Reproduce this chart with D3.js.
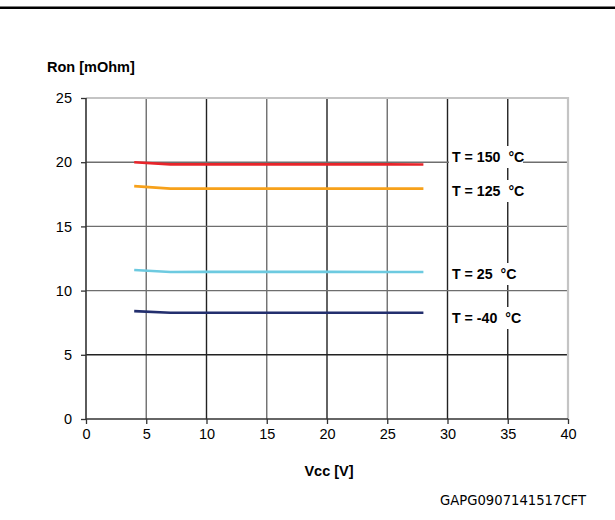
<!DOCTYPE html>
<html>
<head>
<meta charset="utf-8">
<script src="https://cdn.jsdelivr.net/npm/d3@7"></script>
<style>
  body { margin: 0; background: #fff; }
  text { font-family: "Liberation Sans", Arial, sans-serif; }
</style>
</head>
<body>
<div id="chart"></div>
<script>
// Data
const vcc = [4, 7, 10, 15, 20, 25, 28];
const ron150 = [20.0, 19.83, 19.83, 19.83, 19.83, 19.83, 19.82];
const ron125 = [18.14, 17.94, 17.94, 17.94, 17.94, 17.94, 17.94];
const ron25 = [11.61, 11.45, 11.46, 11.46, 11.46, 11.45, 11.45];
const ronM40 = [8.40, 8.27, 8.27, 8.27, 8.27, 8.27, 8.27];
const seriesNames = ['T = 150  °C', 'T = 125  °C', 'T = 25  °C', 'T = -40  °C'];
const seriesColors = ['#e8242a', '#f7a11a', '#6dcae0', '#232f6e'];
const xTicks = [0, 5, 10, 15, 20, 25, 30, 35, 40];
const yTicks = [0, 5, 10, 15, 20, 25];

const width = 615;
const height = 520;

// Plot area
const plotLeft = 86;
const plotRight = 568;
const plotTop = 98;
const plotBottom = 419;

const svg = d3
  .select('#chart')
  .append('svg')
  .attr('width', width)
  .attr('height', height);

// Rule at the very top (remains of the page heading)
svg
  .append('rect')
  .attr('x', 0)
  .attr('y', 6.5)
  .attr('width', width)
  .attr('height', 2.5)
  .attr('fill', '#000');

const x = d3.scaleLinear().domain([0, 40]).range([plotLeft, plotRight]);
const y = d3.scaleLinear().domain([0, 25]).range([plotBottom, plotTop]);

// Grid lines
svg
  .append('g')
  .selectAll('line')
  .data(xTicks.filter((d) => d > 0 && d < 40))
  .enter()
  .append('line')
  .attr('x1', (d) => x(d))
  .attr('x2', (d) => x(d))
  .attr('y1', plotTop)
  .attr('y2', plotBottom)
  .attr('stroke', (d) => (d % 10 === 0 || d === 35 ? '#222' : '#6e6e6e'))
  .attr('stroke-width', 1.4);

svg
  .append('g')
  .selectAll('line')
  .data(yTicks.filter((d) => d > 0 && d < 25))
  .enter()
  .append('line')
  .attr('x1', plotLeft)
  .attr('x2', plotRight)
  .attr('y1', (d) => y(d))
  .attr('y2', (d) => y(d))
  .attr('stroke', (d) => (d === 5 ? '#222' : '#6e6e6e'))
  .attr('stroke-width', 1.4);

// Light border top and right
svg
  .append('path')
  .attr('d', `M${plotLeft},${y(25)}H${x(40)}V${y(0)}`)
  .attr('fill', 'none')
  .attr('stroke', '#c4c4c4')
  .attr('stroke-width', 2.2);

// Axes
const xAxis = d3
  .axisBottom(x)
  .tickValues(xTicks)
  .tickSize(5)
  .tickPadding(5);
const yAxis = d3
  .axisLeft(y)
  .tickValues(yTicks)
  .tickSize(5)
  .tickPadding(9);

const gx = svg
  .append('g')
  .attr('transform', 'translate(0,' + plotBottom + ')')
  .call(xAxis);
const gy = svg
  .append('g')
  .attr('transform', 'translate(' + plotLeft + ',0)')
  .call(yAxis);

[gx, gy].forEach((g) => {
  g.select('.domain').attr('stroke', '#333').attr('stroke-width', 1.6);
  g.selectAll('.tick line').attr('stroke', '#333').attr('stroke-width', 1.3);
  g.selectAll('.tick text')
    .attr('fill', '#000')
    .style('font-size', '14.5px')
    .style('font-family', '"Liberation Sans", Arial, sans-serif');
});
gx.select('.domain').attr('d', `M${plotLeft},0H${plotRight}`);
gy.select('.domain').attr('d', `M0,${plotTop}V${plotBottom}`);

// Series lines
const allSeries = [ron150, ron125, ron25, ronM40];
const line = d3
  .line()
  .x((d, i) => x(vcc[i]))
  .y((d) => y(d));

svg
  .append('g')
  .selectAll('path')
  .data(allSeries)
  .enter()
  .append('path')
  .attr('d', (d) => line(d))
  .attr('fill', 'none')
  .attr('stroke', (d, i) => seriesColors[i])
  .attr('stroke-width', 2.6);

// Series labels on white boxes
const labelBase = [162, 196, 279, 323];
const labels = svg
  .append('g')
  .selectAll('g')
  .data(seriesNames)
  .enter()
  .append('g');

labels
  .append('rect')
  .attr('x', 449)
  .attr('y', (d, i) => labelBase[i] - 16)
  .attr('width', (d) => (d.indexOf('25 ') === 4 ? 66 : 74))
  .attr('height', 22)
  .attr('fill', '#fff');

labels
  .append('text')
  .attr('x', 452)
  .attr('y', (d, i) => labelBase[i])
  .style('font-size', '14.2px')
  .style('font-weight', 'bold')
  .style('white-space', 'pre')
  .text((d) => d);

// Axis titles
svg
  .append('text')
  .attr('x', 47)
  .attr('y', 72)
  .style('font-size', '14.5px')
  .style('font-weight', 'bold')
  .text('Ron [mOhm]');

svg
  .append('text')
  .attr('x', (plotLeft + plotRight) / 2 + 2)
  .attr('y', 476)
  .attr('text-anchor', 'middle')
  .style('font-size', '14.5px')
  .style('font-weight', 'bold')
  .text('Vcc [V]');

// Figure code
svg
  .append('text')
  .attr('x', 586)
  .attr('y', 505)
  .attr('text-anchor', 'end')
  .style('font-family', '"DejaVu Sans", sans-serif')
  .style('font-size', '13.2px')
  .text('GAPG0907141517CFT');
</script>
</body>
</html>
